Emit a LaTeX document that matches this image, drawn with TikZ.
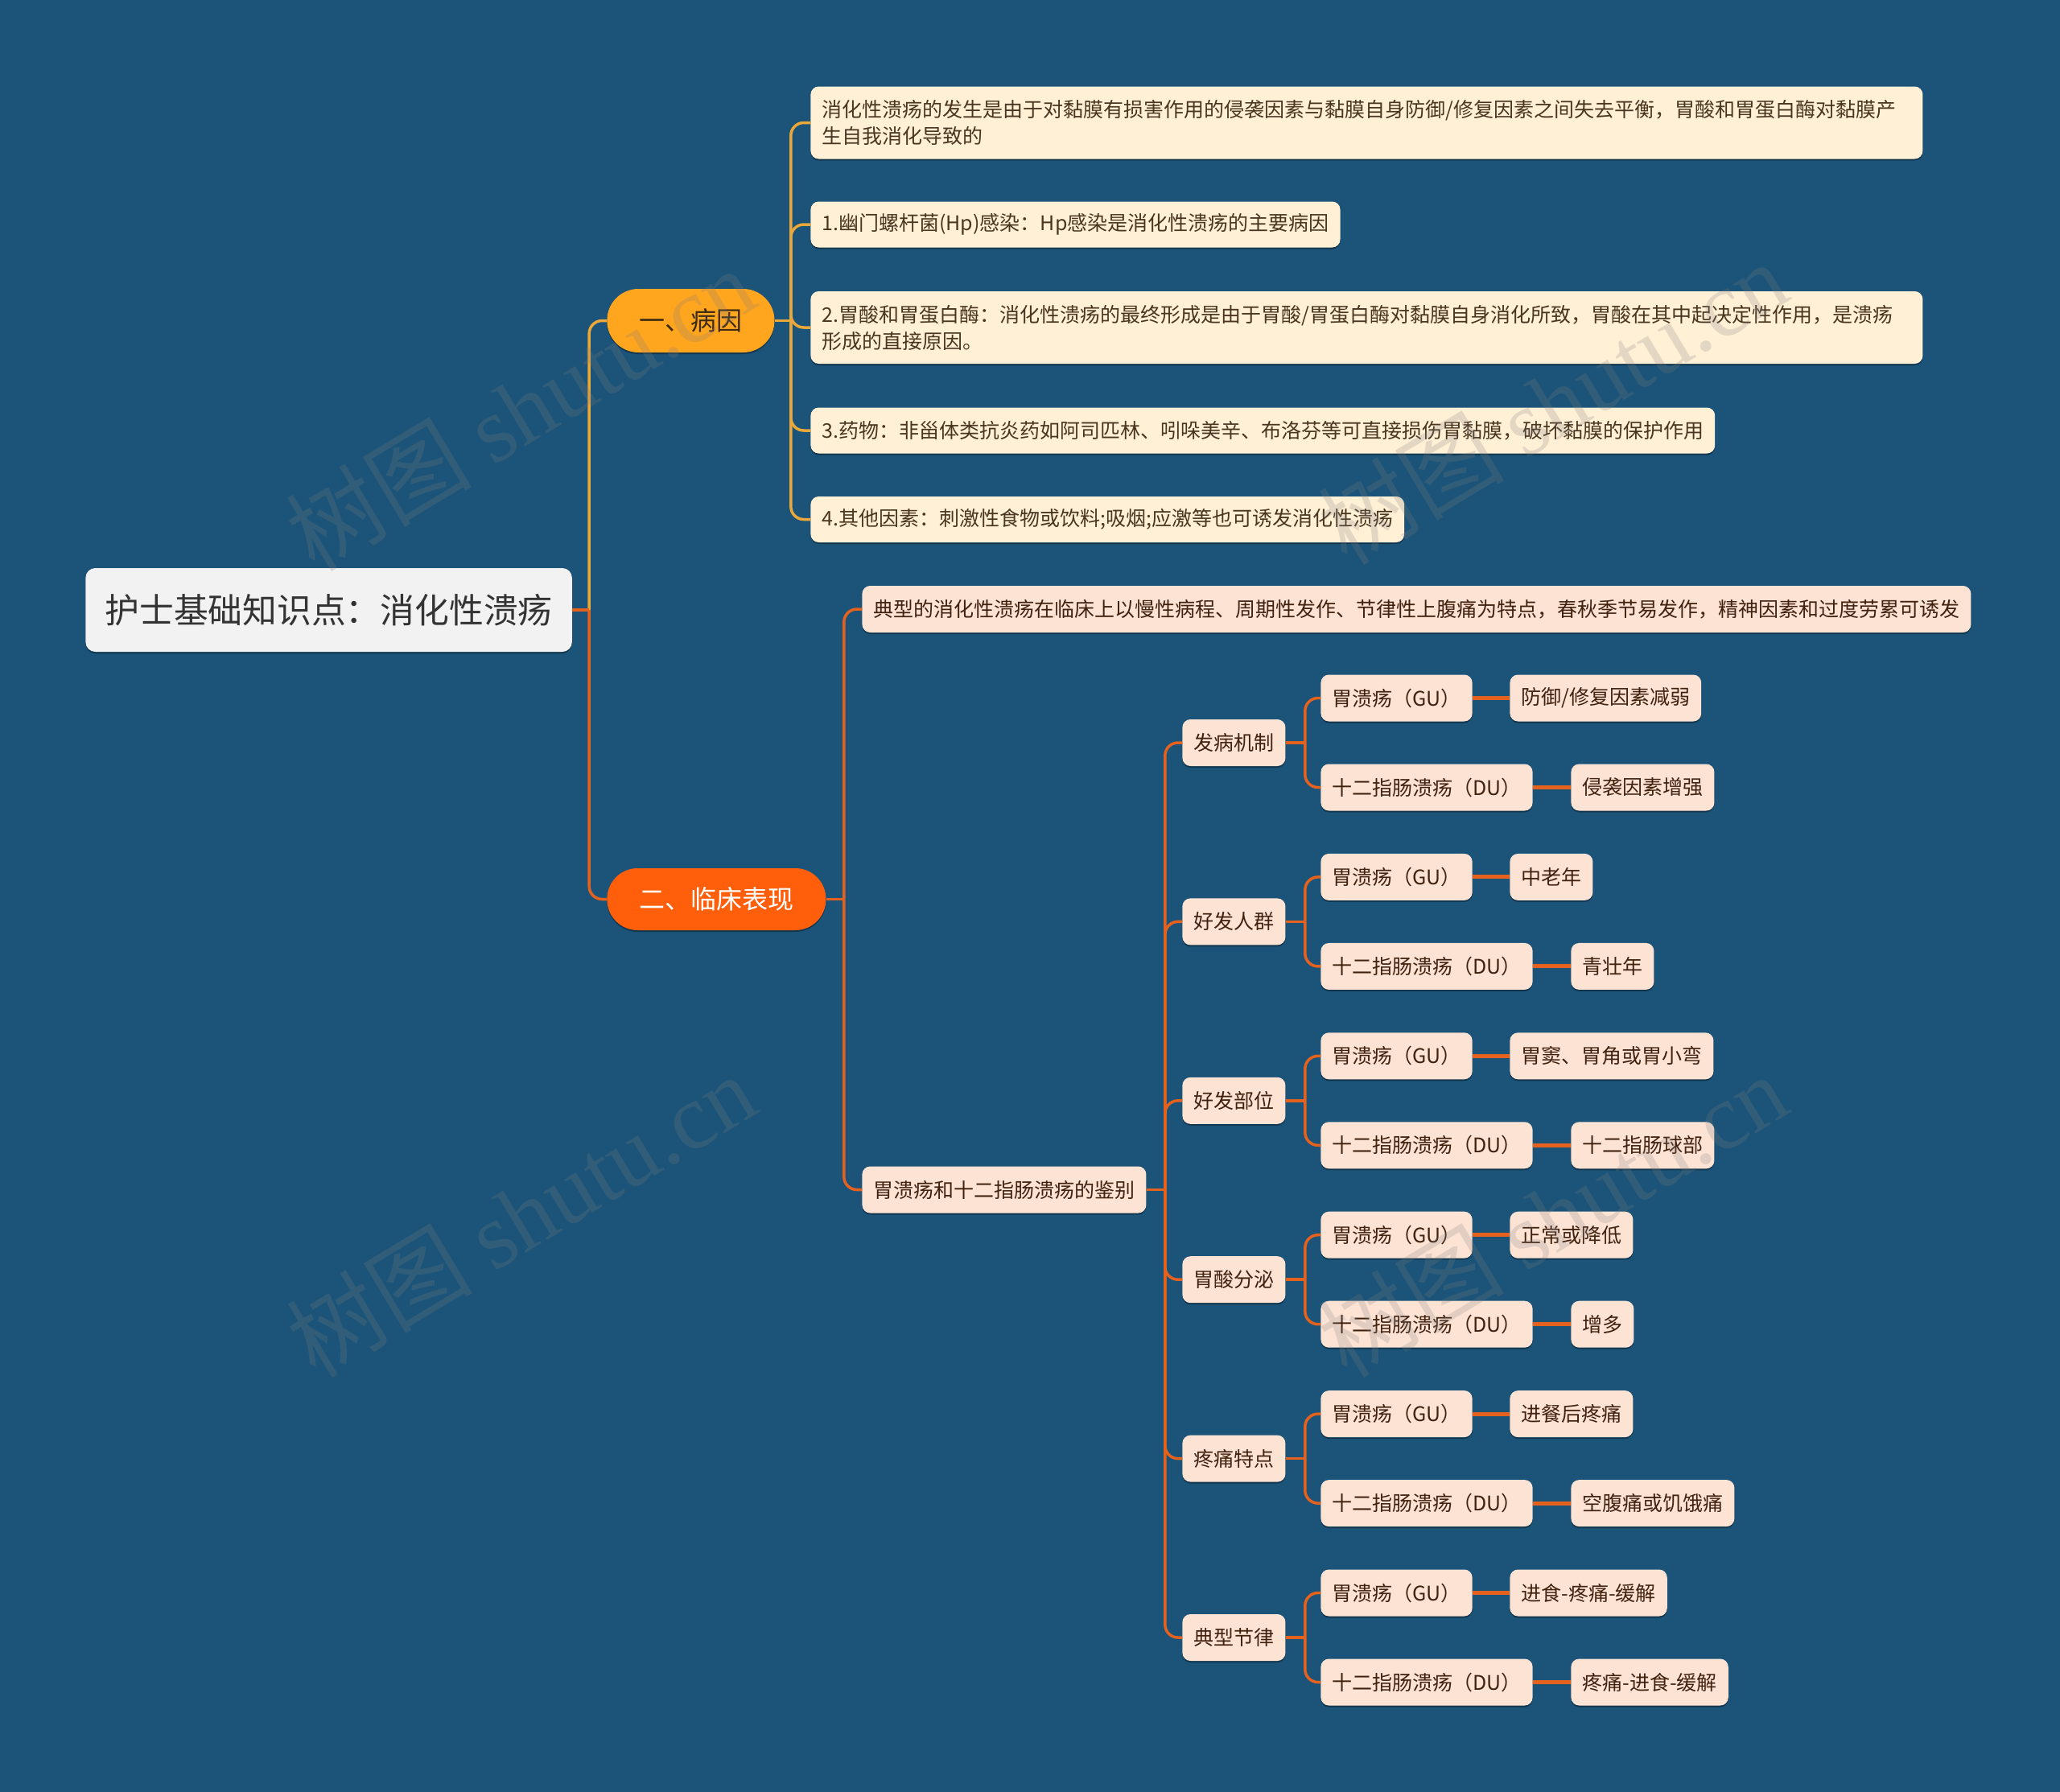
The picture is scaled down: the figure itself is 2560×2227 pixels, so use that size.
\documentclass[tikz,border=0pt]{standalone}
\usepackage{fontspec}
\setmainfont{Noto Sans CJK SC}
\newfontfamily\wmserif{Liberation Serif}
\usetikzlibrary{shadows}
\definecolor{bg}{HTML}{1B5478}
\definecolor{rootfill}{HTML}{F2F2F2}
\definecolor{roottext}{HTML}{333333}
\definecolor{amber}{HTML}{FFA51E}
\definecolor{amberline}{HTML}{EAA73A}
\definecolor{amtext}{HTML}{3B2A14}
\definecolor{hot}{HTML}{FF5E0A}
\definecolor{hotline}{HTML}{E4611E}
\definecolor{cream}{HTML}{FFF0D6}
\definecolor{creamtext}{HTML}{4A3520}
\definecolor{peach}{HTML}{FDE3D4}
\definecolor{peachtext}{HTML}{40220F}
\tikzset{
  shad/.style={drop shadow={shadow xshift=0pt, shadow yshift=-1pt, opacity=0.35, fill=black}},
  rootbox/.style={shad, fill=rootfill, text=roottext, rounded corners=6pt, anchor=west,
    font=\fontsize{21.4pt}{26pt}\selectfont, inner xsep=12pt, inner ysep=0pt, minimum height=52pt},
  pillA/.style={shad, fill=amber, text=amtext, rounded corners=19.5pt, anchor=west,
    font=\fontsize{16pt}{20pt}\selectfont, inner xsep=20pt, inner ysep=0pt, minimum height=39.5pt},
  pillB/.style={pillA, fill=hot, text=white, minimum height=38.5pt, rounded corners=19pt},
  creambox/.style={shad, fill=cream, text=creamtext, rounded corners=5pt, anchor=west,
    font=\fontsize{12.5pt}{16.5pt}\selectfont, inner xsep=7pt, inner ysep=0pt, minimum height=28.5pt},
  longbox/.style={creambox, text width=677pt, align=left, minimum height=45pt},
  peachbox/.style={creambox, fill=peach, text=peachtext, minimum height=29pt},
  lineY/.style={draw=amberline, line width=1.75pt, rounded corners=8pt},
  lineO/.style={draw=hotline, line width=1.75pt, rounded corners=8pt},
  lineL/.style={draw=hotline, line width=2.5pt},
  wm/.style={text=gray, opacity=0.22, rotate=31, font=\fontsize{58pt}{64pt}\selectfont}
}
\begin{document}
\begin{tikzpicture}[x=0.5pt,y=-0.5pt]
\fill[bg] (0,0) rectangle (2560,2227);
\useasboundingbox (0,0) rectangle (2560,2227);

% root and first level
\node[rootbox] (root) at (106,758) {护士基础知识点：消化性溃疡};
\node[pillA] (A) at (754,398.5) {一、病因};
\node[pillB] (B) at (754,1117.5) {二、临床表现};

% causes
\node[longbox] (c1) at (1007,152.5) {消化性溃疡的发生是由于对黏膜有损害作用的侵袭因素与黏膜自身防御/修复因素之间失去平衡，胃酸和胃蛋白酶对黏膜产\\生自我消化导致的};
\node[creambox] (c2) at (1007,279) {1.幽门螺杆菌(Hp)感染：Hp感染是消化性溃疡的主要病因};
\node[longbox] (c3) at (1007,407) {2.胃酸和胃蛋白酶：消化性溃疡的最终形成是由于胃酸/胃蛋白酶对黏膜自身消化所致，胃酸在其中起决定性作用，是溃疡\\形成的直接原因。};
\node[creambox] (c4) at (1007,535) {3.药物：非甾体类抗炎药如阿司匹林、吲哚美辛、布洛芬等可直接损伤胃黏膜，破坏黏膜的保护作用};
\node[creambox] (c5) at (1007,645.5) {4.其他因素：刺激性食物或饮料;吸烟;应激等也可诱发消化性溃疡};

% clinical
\node[peachbox] (d1) at (1071,757) {典型的消化性溃疡在临床上以慢性病程、周期性发作、节律性上腹痛为特点，春秋季节易发作，精神因素和过度劳累可诱发};
\node[peachbox] (d2) at (1071,1478.5) {胃溃疡和十二指肠溃疡的鉴别};

\node[peachbox] (e1) at (1469,923) {发病机制};
\node[peachbox] (e2) at (1469,1145.4) {好发人群};
\node[peachbox] (e3) at (1469,1367.8) {好发部位};
\node[peachbox] (e4) at (1469,1590.2) {胃酸分泌};
\node[peachbox] (e5) at (1469,1812.6) {疼痛特点};
\node[peachbox] (e6) at (1469,2035) {典型节律};

\node[peachbox] (g1) at (1641,867.5) {胃溃疡（GU）};
\node[peachbox] (u1) at (1641,978.5) {十二指肠溃疡（DU）};
\node[peachbox] (g2) at (1641,1089.9) {胃溃疡（GU）};
\node[peachbox] (u2) at (1641,1200.9) {十二指肠溃疡（DU）};
\node[peachbox] (g3) at (1641,1312.3) {胃溃疡（GU）};
\node[peachbox] (u3) at (1641,1423.3) {十二指肠溃疡（DU）};
\node[peachbox] (g4) at (1641,1534.7) {胃溃疡（GU）};
\node[peachbox] (u4) at (1641,1645.7) {十二指肠溃疡（DU）};
\node[peachbox] (g5) at (1641,1757.1) {胃溃疡（GU）};
\node[peachbox] (u5) at (1641,1868.1) {十二指肠溃疡（DU）};
\node[peachbox] (g6) at (1641,1979.5) {胃溃疡（GU）};
\node[peachbox] (u6) at (1641,2090.5) {十二指肠溃疡（DU）};

\node[peachbox] (gl1) at (1876,867.5) {防御/修复因素减弱};
\node[peachbox] (ul1) at (1952,978.5) {侵袭因素增强};
\node[peachbox] (gl2) at (1876,1089.9) {中老年};
\node[peachbox] (ul2) at (1952,1200.9) {青壮年};
\node[peachbox] (gl3) at (1876,1312.3) {胃窦、胃角或胃小弯};
\node[peachbox] (ul3) at (1952,1423.3) {十二指肠球部};
\node[peachbox] (gl4) at (1876,1534.7) {正常或降低};
\node[peachbox] (ul4) at (1952,1645.7) {增多};
\node[peachbox] (gl5) at (1876,1757.1) {进餐后疼痛};
\node[peachbox] (ul5) at (1952,1868.1) {空腹痛或饥饿痛};
\node[peachbox] (gl6) at (1876,1979.5) {进食-疼痛-缓解};
\node[peachbox] (ul6) at (1952,2090.5) {疼痛-进食-缓解};

% junctions
\coordinate (jr) at ([xshift=10.5pt]root.east);
\coordinate (ja) at ([xshift=10pt]A.east);
\coordinate (jb) at ([xshift=11pt]B.east);
\coordinate (jd) at ([xshift=11.5pt]d2.east);

% connectors
\draw[lineY] (jr) |- (A.west);
\draw[lineO] (jr) |- (B.west);
\draw[lineO] (root.east) -- (jr);

\draw[lineY] (A.east) -- (ja);
\foreach \c in {c1,c2,c3,c4,c5} \draw[lineY] (ja) |- (\c.west);

\draw[lineO] (B.east) -- (jb);
\foreach \c in {d1,d2} \draw[lineO] (jb) |- (\c.west);

\draw[lineO] (d2.east) -- (jd);
\foreach \c in {e1,e2,e3,e4,e5,e6} \draw[lineO] (jd) |- (\c.west);

\foreach \i in {1,...,6} {
  \coordinate (je\i) at ([xshift=12pt]e\i.east);
  \draw[lineO] (e\i.east) -- (je\i);
  \draw[lineO] (je\i) |- (g\i.west);
  \draw[lineO] (je\i) |- (u\i.west);
  \draw[lineL] (g\i.east) -- (gl\i.west);
  \draw[lineL] (u\i.east) -- (ul\i.west);
}

% watermarks
\node[wm] (w1) at (646,508) {树图 {\wmserif shutu.cn}};
\node[wm] (w2) at (1929,500) {树图 {\wmserif shutu.cn}};
\node[wm] (w3) at (647,1510) {树图 {\wmserif shutu.cn}};
\node[wm] (w4) at (1929,1510) {树图 {\wmserif shutu.cn}};
\end{tikzpicture}
\end{document}
